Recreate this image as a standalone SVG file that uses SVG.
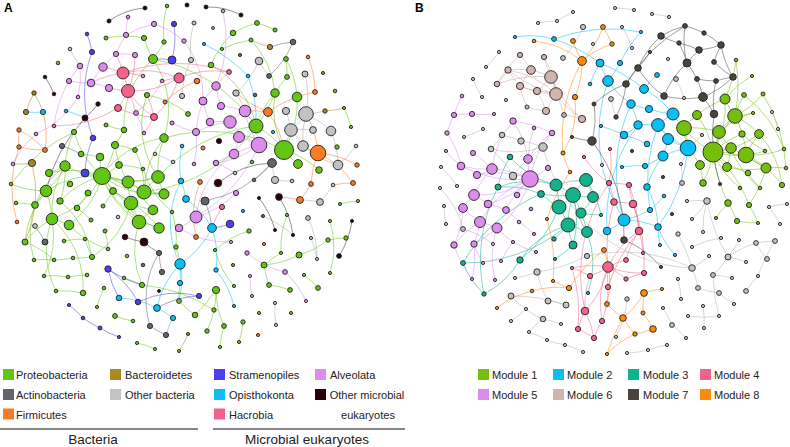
<svg xmlns="http://www.w3.org/2000/svg" width="790" height="447" viewBox="0 0 790 447">
<style>
text{font-family:"Liberation Sans",Arial,sans-serif;fill:#222}
.lg{font-size:11px}.hd{font-size:13.5px}.pl{font-size:12px;font-weight:bold;fill:#000}
circle{stroke:#222;stroke-width:.9}
.E path{fill:none;stroke-width:.85;stroke-opacity:.62}
.g{fill:#63c612}.o{fill:#a88a20}.k{fill:#63656d}.s{fill:#c2c2c2}.f{fill:#fb7a24}.b{fill:#4a40ee}.c{fill:#0abff3}.h{fill:#f4628c}.v{fill:#dd8cee}.m{fill:#2b0007}
.q1{fill:#76be0c}.q2{fill:#07bef5}.q3{fill:#12b38c}.q6{fill:#d2b4ae}.q7{fill:#4a443e}.q8{fill:#ff8a05}
.eg{stroke:#63c612}.ev{stroke:#d98ae8}.eh{stroke:#f4628c}.es{stroke:#aaa}.ek{stroke:#63656d}.ef{stroke:#fb7a24}.ec{stroke:#0abff3}.eb{stroke:#4a40ee}.em{stroke:#3a2a2a}.eo{stroke:#a88a20}
.e1{stroke:#76be0c}.e2{stroke:#07bef5}.e3{stroke:#12b38c}.e4{stroke:#f4628c}.e5{stroke:#dd8cee}.e6{stroke:#c9a9a3}.e7{stroke:#4a443e}.e8{stroke:#ff8a05}.en{stroke:#b5b5b5}
</style>
<rect width="790" height="447" fill="#fff"/>
<text class="pl" x="4" y="12">A</text>
<text class="pl" x="415" y="12">B</text>
<g id="connectors" class="E">
<path class="eg" d="M102 176A90 90 0 0 1 65 166M102 176A90 90 0 0 0 46 191M102 176A90 90 0 0 1 52 219M102 176A90 90 0 0 0 131 203M102 176A90 90 0 0 1 128 182M102 176A90 90 0 0 1 144 192M102 176A90 90 0 0 0 139 222M102 176A90 90 0 0 1 100 157M102 176A90 90 0 0 0 119 165M102 176A90 90 0 0 1 113 191M102 176A90 90 0 0 0 49 173M102 176A90 90 0 0 1 69 225M102 176A90 90 0 0 0 158 177M102 176A90 90 0 0 1 153 210M102 176A90 90 0 0 0 159 228M102 176A90 90 0 0 0 164 194M102 176A90 90 0 0 1 164 138M102 176A90 90 0 0 0 115 145M102 176A90 90 0 0 1 74 132M102 176A90 90 0 0 0 60 201M65 166A90 90 0 0 1 46 191M65 166A90 90 0 0 0 52 219M65 166A90 90 0 0 1 49 173M65 166A90 90 0 0 0 35 205M65 166A90 90 0 0 1 74 132M65 166A90 90 0 0 1 60 201M46 191A90 90 0 0 1 52 219M46 191A90 90 0 0 0 35 205M46 191A90 90 0 0 0 25 242M46 191A90 90 0 0 1 11 184M52 219A90 90 0 0 1 69 225M52 219A90 90 0 0 0 56 291M52 219A90 90 0 0 1 83 293M52 219A90 90 0 0 0 25 242M52 219A90 90 0 0 1 44 276M131 203A90 90 0 0 1 139 222M131 203A90 90 0 0 0 144 192M131 203A90 90 0 0 1 128 182M131 203A90 90 0 0 0 153 210M131 203A90 90 0 0 1 159 228M131 203A90 90 0 0 0 113 191M131 203A90 90 0 0 1 92 257M144 192A90 90 0 0 1 158 177M144 192A90 90 0 0 0 164 194M144 192A90 90 0 0 1 164 138M144 192A90 90 0 0 0 135 150M128 182A90 90 0 0 0 158 177M128 182A90 90 0 0 1 115 145M139 222A90 90 0 0 1 159 228M139 222A90 90 0 0 0 142 285M139 222A90 90 0 0 1 153 210M158 177A90 90 0 0 1 164 138M158 177A90 90 0 0 0 164 194M158 177A90 90 0 0 1 147 95M164 138A90 90 0 0 0 153 59M153 59A90 90 0 0 1 144 38M153 59A90 90 0 0 0 164 42M153 59A90 90 0 0 0 124 130M158 177A160 160 0 0 1 256 126M164 138A160 160 0 0 1 284 150M144 192A160 160 0 0 0 275 93M153 59A160 160 0 0 1 256 126M256 126A90 90 0 0 1 284 150M284 150A90 90 0 0 0 298 164M284 150A90 90 0 0 1 275 93M284 150A90 90 0 0 0 297 97M256 126A90 90 0 0 1 275 93M297 97A90 90 0 0 0 286 59M275 93A90 90 0 0 1 287 77M284 150A90 90 0 0 1 319 170M256 126A90 90 0 0 0 211 65M211 65A90 90 0 0 1 233 33M233 33A90 90 0 0 1 257 23M257 23A90 90 0 0 1 275 30M251 40A90 90 0 0 0 222 49M287 77A90 90 0 0 0 286 59M275 93A90 90 0 0 0 251 40M216 290A90 90 0 0 1 214 310M216 290A90 90 0 0 0 224 326M214 310A90 90 0 0 1 207 331M243 322A90 90 0 0 1 239 342M224 326A90 90 0 0 0 220 347M269 285A90 90 0 0 1 290 290M299 255A90 90 0 0 1 264 265M264 265A90 90 0 0 1 281 253M287 215A90 90 0 0 0 281 253M328 240A90 90 0 0 1 346 238M249 231A90 90 0 0 0 215 250M195 315A90 90 0 0 1 179 301M115 316A90 90 0 0 0 133 321M137 343A90 90 0 0 1 155 349M83 293A90 90 0 0 0 56 291M97 307A90 90 0 0 1 104 288M68 277A90 90 0 0 1 87 275M358 201A90 90 0 0 0 340 204M330 221A90 90 0 0 1 330 273M318 288A90 90 0 0 0 304 275M234 286A90 90 0 0 1 215 250M264 265A90 90 0 0 0 269 285M299 255A90 90 0 0 0 328 240M216 290A160 160 0 0 1 195 315M214 310A160 160 0 0 0 142 285M176 247A90 90 0 0 1 179 301M142 285A90 90 0 0 0 124 278M34 260A90 90 0 0 1 54 260M44 276A90 90 0 0 1 68 277M54 260A90 90 0 0 0 73 258M73 258A90 90 0 0 0 92 257M105 231A90 90 0 0 1 108 249M64 241A90 90 0 0 1 85 239M77 208A90 90 0 0 1 91 220M103 206A90 90 0 0 0 113 191M88 193A90 90 0 0 1 77 208M119 165A90 90 0 0 1 143 169M143 169A90 90 0 0 0 172 212M172 212A90 90 0 0 1 176 247M85 239A90 90 0 0 0 92 257M124 130A90 90 0 0 1 115 145M106 125A90 90 0 0 0 124 130M135 150A90 90 0 0 0 115 145M81 154A90 90 0 0 1 100 157M106 38A90 90 0 0 1 144 38M167 6A90 90 0 0 0 164 42M188 114A90 90 0 0 0 147 95M16 203A90 90 0 0 1 35 205M351 127A90 90 0 0 0 344 108M74 132A160 160 0 0 0 11 184M35 205A90 90 0 0 0 34 260M25 242A90 90 0 0 1 54 260M60 201A90 90 0 0 1 92 257M69 225A90 90 0 0 0 108 249M113 191A90 90 0 0 1 139 222M128 182A90 90 0 0 0 164 194"/>
<path class="ev" d="M259 145A90 90 0 0 1 230 122M259 145A90 90 0 0 0 239 137M259 145A90 90 0 0 1 245 111M259 145A90 90 0 0 0 234 154M230 122A90 90 0 0 1 245 111M230 122A90 90 0 0 0 210 122M210 122A90 90 0 0 1 203 101M203 101A90 90 0 0 1 216 86M216 86A90 90 0 0 0 221 106M221 106A90 90 0 0 1 245 111M239 137A90 90 0 0 1 234 154M245 111A90 90 0 0 0 236 93M259 145A90 90 0 0 1 216 163M230 122A90 90 0 0 0 196 132M216 86A90 90 0 0 1 229 72M234 154A90 90 0 0 0 216 163M103 67A90 90 0 0 1 116 54M103 67A90 90 0 0 0 91 83M91 83A90 90 0 0 1 109 88M80 66A90 90 0 0 0 69 81M69 81A90 90 0 0 0 91 83M80 66A90 90 0 0 1 78 97M116 54A90 90 0 0 1 126 35M126 35A90 90 0 0 1 154 24M154 24A90 90 0 0 1 184 41M135 55A90 90 0 0 0 116 54M136 113A90 90 0 0 1 144 133M196 132A90 90 0 0 1 194 164M196 217A90 90 0 0 1 179 228M196 217A90 90 0 0 0 236 193M179 228A90 90 0 0 0 231 242M285 272A90 90 0 0 1 247 253M250 276A90 90 0 0 0 252 296M306 301A90 90 0 0 0 285 272M78 97A90 90 0 0 1 36 134M36 134A90 90 0 0 0 13 164M259 145A160 160 0 0 1 196 217M234 154A90 90 0 0 0 196 217M203 101A90 90 0 0 0 196 132M196 132A90 90 0 0 1 172 123M216 86A120 120 0 0 0 223 11M128 17A90 90 0 0 0 126 35M80 66A90 90 0 0 1 70 49M69 81A120 120 0 0 0 54 126M216 163A90 90 0 0 1 235 173M184 41A90 90 0 0 1 203 101M162 81A90 90 0 0 1 136 113"/>
<path class="eh" d="M123 73A90 90 0 0 1 128 91M123 73A90 90 0 0 1 179 78M128 91A90 90 0 0 0 179 78M128 91A90 90 0 0 1 118 108M128 91A90 90 0 0 0 154 117M123 73A90 90 0 0 0 103 67M128 91A90 90 0 0 1 109 88M118 108A90 90 0 0 0 154 117M179 78A90 90 0 0 1 154 117M123 73A90 90 0 0 1 143 76M154 117A90 90 0 0 1 144 133M128 91A90 90 0 0 0 135 55M179 78A90 90 0 0 0 162 81M229 72A90 90 0 0 0 179 78M123 73A90 90 0 0 0 116 54M128 91A90 90 0 0 1 136 113M118 108A120 120 0 0 1 54 126M154 117A90 90 0 0 0 147 95M123 73A160 160 0 0 1 229 72M91 83A90 90 0 0 1 123 73M222 207A90 90 0 0 0 212 228"/>
<path class="es" d="M306 114A90 90 0 0 1 291 130M306 114A90 90 0 0 0 303 146M291 130A90 90 0 0 1 303 146M291 130A90 90 0 0 0 286 111M306 114A90 90 0 0 1 331 131M331 131A90 90 0 0 1 338 165M303 146A90 90 0 0 0 338 165M259 61A90 90 0 0 1 236 93M305 74A90 90 0 0 1 306 114M313 130A90 90 0 0 0 291 130M275 180A90 90 0 0 1 272 163M320 202A90 90 0 0 0 300 200M308 218A90 90 0 0 1 317 259M259 61A90 90 0 0 0 269 76M291 130A90 90 0 0 1 272 163M338 165A90 90 0 0 0 356 146M306 114A90 90 0 0 0 325 111M194 23A90 90 0 0 0 191 60M182 96A90 90 0 0 1 191 60M275 180A90 90 0 0 0 292 181M333 185A90 90 0 0 1 320 202M275 303A90 90 0 0 0 276 325M263 216A120 120 0 0 1 293 235M311 238A90 90 0 0 1 317 259M155 154A90 90 0 0 1 173 162"/>
<path class="em" d="M145 8A70 70 0 0 0 109 21M206 7A70 70 0 0 1 241 15M45 77A90 90 0 0 1 54 94M144 242A90 90 0 0 1 125 237M144 242A90 90 0 0 0 159 253M218 183A90 90 0 0 1 272 163M279 197A90 90 0 0 1 293 235M339 256A90 90 0 0 0 352 221M85 118A160 160 0 0 0 46 191M98 104A90 90 0 0 1 85 118M259 198A90 90 0 0 1 275 230"/>
<path class="ek" d="M162 272A90 90 0 0 1 159 253M150 326A90 90 0 0 0 166 335M293 42A90 90 0 0 0 270 47M62 146A90 90 0 0 1 81 154M205 201A90 90 0 0 1 212 228M293 42A90 90 0 0 1 269 76M150 326A90 90 0 0 1 159 253M45 242A90 90 0 0 0 35 226M205 201A120 120 0 0 0 272 163M254 180A90 90 0 0 0 272 163"/>
<path class="ef" d="M318 153A90 90 0 0 1 303 146M318 153A90 90 0 0 0 311 184M318 153A90 90 0 0 1 353 183M268 112A120 120 0 0 1 315 92M318 153A90 90 0 0 1 357 165M315 92A90 90 0 0 0 308 57M19 130A90 90 0 0 0 19 147M19 147A90 90 0 0 0 45 150M19 130A90 90 0 0 1 45 150M45 150A90 90 0 0 0 43 112M200 182A90 90 0 0 0 196 237M300 200A90 90 0 0 0 279 197M268 112A90 90 0 0 1 284 150M318 153A90 90 0 0 0 306 114M197 81A90 90 0 0 0 165 102M17 222A120 120 0 0 1 19 147M311 184A90 90 0 0 1 300 200M353 183A90 90 0 0 0 333 185M268 112A90 90 0 0 0 245 111M268 112A120 120 0 0 1 236 93"/>
<path class="ec" d="M180 264A90 90 0 0 1 180 283M180 264A90 90 0 0 0 157 308M157 308A90 90 0 0 1 173 318M180 283A90 90 0 0 0 179 301M212 228A90 90 0 0 0 186 199M186 199A90 90 0 0 0 181 181M181 181A90 90 0 0 1 182 146M180 264A90 90 0 0 1 181 181M119 298A90 90 0 0 1 157 308M43 112A90 90 0 0 1 26 112M212 228A90 90 0 0 1 216 270M180 264A90 90 0 0 0 212 228M204 44A160 160 0 0 1 248 76M234 306A90 90 0 0 0 216 270M66 111A90 90 0 0 1 85 118M248 76A120 120 0 0 1 256 126M173 318A90 90 0 0 0 166 335"/>
<path class="eb" d="M108 269A90 90 0 0 0 119 298M108 269A90 90 0 0 1 138 302M138 302A90 90 0 0 1 199 296M83 318A90 90 0 0 0 100 328M100 328A90 90 0 0 0 119 337M85 173A90 90 0 0 1 93 138M93 138A120 120 0 0 1 92 52M174 24A90 90 0 0 1 172 60M172 60A90 90 0 0 0 153 59M199 296A90 90 0 0 0 157 308M69 305A90 90 0 0 1 83 318M230 224A90 90 0 0 1 212 228M87 34A90 90 0 0 1 92 52M108 269A120 120 0 0 0 142 285"/>
<path class="eo" d="M34 93A90 90 0 0 0 26 112M34 93A90 90 0 0 1 43 112M32 163A90 90 0 0 1 13 164M270 47A90 90 0 0 1 251 40M188 334A90 90 0 0 1 179 351M325 111A90 90 0 0 0 344 108M32 163A120 120 0 0 1 25 242"/>
<path class="e1" d="M713 152A90 90 0 0 1 684 128M713 152A90 90 0 0 0 719 132M713 152A90 90 0 0 1 731 148M713 152A90 90 0 0 0 746 155M713 152A90 90 0 0 1 700 165M713 152A90 90 0 0 0 727 167M713 152A90 90 0 0 0 697 115M713 152A90 90 0 0 1 735 116M713 152A90 90 0 0 0 725 99M713 152A90 90 0 0 1 742 134M713 152A90 90 0 0 0 759 134M713 152A90 90 0 0 1 766 168M713 152A90 90 0 0 0 748 173M713 152A90 90 0 0 1 703 183M713 152A90 90 0 0 0 740 188M735 116A90 90 0 0 1 725 99M735 116A90 90 0 0 0 719 132M735 116A90 90 0 0 1 744 95M735 116A90 90 0 0 0 763 94M735 116A90 90 0 0 1 759 134M735 116A90 90 0 0 1 746 155M735 116A90 90 0 0 0 753 113M746 155A90 90 0 0 1 759 134M746 155A90 90 0 0 0 766 168M746 155A90 90 0 0 1 731 148M746 155A90 90 0 0 0 765 151M746 155A90 90 0 0 1 782 185M684 128A90 90 0 0 1 697 115M684 128A90 90 0 0 0 700 165M684 128A90 90 0 0 1 719 132M719 132A90 90 0 0 0 731 148M731 148A90 90 0 0 1 727 167M727 167A90 90 0 0 0 766 168M766 168A90 90 0 0 1 786 168M748 173A90 90 0 0 0 760 188M700 165A90 90 0 0 1 703 183M725 99A120 120 0 0 0 736 60M725 99A90 90 0 0 1 752 76M697 115A90 90 0 0 1 725 99M735 116A160 160 0 0 0 736 60M746 155A90 90 0 0 0 784 149M713 152A160 160 0 0 0 728 203M727 167A120 120 0 0 1 749 205M728 203A90 90 0 0 1 737 221M737 221A90 90 0 0 0 758 223M749 205A90 90 0 0 1 758 223M728 203A90 90 0 0 0 716 218M766 168A120 120 0 0 1 749 205M719 132A90 90 0 0 1 753 113M742 134A90 90 0 0 0 765 151M744 95A120 120 0 0 1 784 149M763 94A160 160 0 0 1 786 168M759 134A90 90 0 0 1 782 185M731 148A90 90 0 0 0 760 188"/>
<path class="e2" d="M688 148A90 90 0 0 1 658 125M688 148A90 90 0 0 0 673 114M688 148A90 90 0 0 1 668 139M688 148A90 90 0 0 0 663 156M658 125A90 90 0 0 1 673 114M658 125A90 90 0 0 0 638 125M658 125A90 90 0 0 1 668 139M673 114A90 90 0 0 0 644 89M673 114A90 90 0 0 1 649 109M638 125A90 90 0 0 0 631 104M631 104A90 90 0 0 1 608 81M608 81A90 90 0 0 1 600 63M608 81A90 90 0 0 0 620 63M644 89A90 90 0 0 1 657 75M649 109A90 90 0 0 1 631 104M624 135A90 90 0 0 0 638 125M624 135A90 90 0 0 1 647 144M663 156A90 90 0 0 1 645 166M663 156A90 90 0 0 0 647 187M624 220A90 90 0 0 1 607 231M624 220A90 90 0 0 0 650 210M624 220A90 90 0 0 1 658 227M650 210A90 90 0 0 0 664 196M554 39A90 90 0 0 0 515 37M554 39A160 160 0 0 1 600 63M641 32A120 120 0 0 0 620 63M608 81A160 160 0 0 0 624 220M600 63A90 90 0 0 0 590 84M645 166A90 90 0 0 0 622 167M647 187A90 90 0 0 1 658 227M658 227A90 90 0 0 0 660 245M675 255A90 90 0 0 1 658 227M668 139A90 90 0 0 1 663 156M600 63A160 160 0 0 1 644 89M638 125A160 160 0 0 0 607 231M631 104A160 160 0 0 0 624 220M641 32A160 160 0 0 0 554 39M658 125A160 160 0 0 0 650 210M688 148A160 160 0 0 1 658 227M624 135A160 160 0 0 0 601 126"/>
<path class="e3" d="M573 195A90 90 0 0 1 559 207M573 195A90 90 0 0 0 568 225M573 195A90 90 0 0 1 581 213M573 195A90 90 0 0 0 593 197M573 195A90 90 0 0 1 586 180M573 195A90 90 0 0 0 556 185M573 195A90 90 0 0 1 541 194M573 195A90 90 0 0 0 587 232M573 195A90 90 0 0 1 573 245M559 207A90 90 0 0 1 568 225M559 207A90 90 0 0 0 556 185M559 207A90 90 0 0 1 541 194M568 225A90 90 0 0 1 587 232M568 225A90 90 0 0 0 573 245M568 225A90 90 0 0 1 554 239M581 213A90 90 0 0 1 587 232M586 180A90 90 0 0 0 556 185M586 180A90 90 0 0 1 593 197M556 185A90 90 0 0 1 510 157M510 157A90 90 0 0 0 498 187M556 185A90 90 0 0 0 498 187M559 207A120 120 0 0 1 520 260M568 225A160 160 0 0 1 463 263M463 263A90 90 0 0 0 484 294M520 260A90 90 0 0 1 484 294M555 259A90 90 0 0 0 573 245M601 215A90 90 0 0 1 581 213M588 293A90 90 0 0 0 587 232M541 194A90 90 0 0 0 498 187M586 180A90 90 0 0 1 601 215M568 225A90 90 0 0 0 520 260M593 197A90 90 0 0 1 581 213M463 263A160 160 0 0 1 541 194M498 187A160 160 0 0 0 484 294"/>
<path class="e4" d="M608 267A90 90 0 0 1 626 260M608 267A90 90 0 0 0 644 273M608 267A90 90 0 0 1 626 279M608 267A90 90 0 0 0 608 287M608 267A90 90 0 0 1 639 231M608 267A90 90 0 0 0 602 321M608 267A90 90 0 0 1 585 311M608 267A90 90 0 0 0 572 268M608 267A90 90 0 0 1 590 276M633 204A90 90 0 0 0 614 202M633 204A90 90 0 0 1 639 231M614 202A90 90 0 0 0 609 183M633 204A90 90 0 0 1 629 185M639 231A90 90 0 0 1 643 253M626 260A90 90 0 0 1 639 231M644 273A90 90 0 0 0 626 279M608 287A90 90 0 0 1 602 321M585 311A90 90 0 0 0 578 329M578 329A90 90 0 0 1 594 338M585 311A90 90 0 0 1 594 338M590 276A90 90 0 0 0 585 311M609 183A90 90 0 0 1 629 185M584 157A90 90 0 0 0 609 183M610 149A90 90 0 0 1 609 183M602 321A90 90 0 0 0 594 338M572 268A90 90 0 0 1 590 276M633 204A160 160 0 0 1 644 273M614 202A160 160 0 0 0 608 267M609 183A160 160 0 0 0 585 311M629 185A160 160 0 0 1 639 231M639 231A160 160 0 0 0 608 287M572 268A160 160 0 0 1 578 329"/>
<path class="e5" d="M530 179A90 90 0 0 1 528 159M530 179A90 90 0 0 0 492 169M530 179A120 120 0 0 1 461 166M530 179A90 90 0 0 0 477 175M530 179A90 90 0 0 1 552 133M530 179A90 90 0 0 0 548 168M530 179A90 90 0 0 1 474 195M530 179A90 90 0 0 0 480 222M530 179A90 90 0 0 1 497 228M530 179A90 90 0 0 0 517 195M530 179A90 90 0 0 1 488 204M492 169A90 90 0 0 1 477 175M492 169A90 90 0 0 0 473 153M492 169A90 90 0 0 1 461 166M492 169A90 90 0 0 1 513 121M528 159A90 90 0 0 0 513 121M528 159A90 90 0 0 1 552 133M461 166A90 90 0 0 0 447 133M461 166A90 90 0 0 1 446 151M447 133A90 90 0 0 1 454 115M454 115A90 90 0 0 1 472 114M454 115A90 90 0 0 1 462 96M472 114A90 90 0 0 0 494 114M474 195A90 90 0 0 0 463 208M474 195A90 90 0 0 1 488 204M463 208A90 90 0 0 0 480 222M488 204A90 90 0 0 1 506 210M480 222A90 90 0 0 1 497 228M480 222A90 90 0 0 0 454 245M480 222A90 90 0 0 1 474 244M497 228A90 90 0 0 0 513 242M506 210A90 90 0 0 1 519 222M497 228A90 90 0 0 1 474 244M474 244A90 90 0 0 0 483 263M501 261A90 90 0 0 1 513 242M472 279A90 90 0 0 0 474 244M495 280A90 90 0 0 1 497 228M463 208A90 90 0 0 1 454 245M528 159A90 90 0 0 1 534 128M492 169A90 90 0 0 0 474 195M530 179A90 90 0 0 0 506 210M454 245A120 120 0 0 0 472 279M513 121A120 120 0 0 1 552 133M534 234A90 90 0 0 0 519 222M536 252A90 90 0 0 1 513 242"/>
<path class="e6" d="M551 77A90 90 0 0 1 556 94M551 77A90 90 0 0 0 531 70M551 77A90 90 0 0 1 544 57M556 94A90 90 0 0 0 537 91M556 94A90 90 0 0 1 520 86M531 70A90 90 0 0 0 508 70M508 70A90 90 0 0 1 497 84M520 86A90 90 0 0 0 537 91M537 91A90 90 0 0 1 546 111M556 94A90 90 0 0 0 546 111M556 94A90 90 0 0 1 564 115M556 94A90 90 0 0 0 582 119M520 55A90 90 0 0 1 531 70M531 70A90 90 0 0 0 520 86M551 77A90 90 0 0 1 537 91M508 70A90 90 0 0 0 520 86M527 107A90 90 0 0 1 520 86M582 119A90 90 0 0 0 564 115M546 111A90 90 0 0 1 527 107M508 70A90 90 0 0 1 556 94M551 77A120 120 0 0 0 497 84M556 94A120 120 0 0 1 508 70M520 55A120 120 0 0 0 497 84M544 57A90 90 0 0 1 556 94M582 119A120 120 0 0 1 551 77"/>
<path class="e7" d="M661 36A90 90 0 0 1 685 26M685 26A90 90 0 0 1 704 33M661 36A90 90 0 0 0 679 43M679 43A90 90 0 0 1 699 50M699 50A90 90 0 0 0 721 45M704 33A90 90 0 0 1 721 45M638 68A90 90 0 0 1 661 36M638 68A90 90 0 0 0 626 84M687 63A90 90 0 0 1 699 50M687 63A90 90 0 0 0 679 43M687 63A90 90 0 0 1 697 79M697 79A90 90 0 0 0 716 81M716 81A90 90 0 0 1 733 77M714 62A90 90 0 0 0 733 77M714 62A90 90 0 0 1 721 45M664 96A90 90 0 0 1 687 63M664 96A90 90 0 0 0 703 97M703 97A90 90 0 0 1 714 114M703 97A90 90 0 0 0 697 79M714 114A90 90 0 0 1 716 81M616 117A90 90 0 0 0 626 84M592 141A90 90 0 0 1 572 137M592 141A90 90 0 0 0 594 104M594 104A90 90 0 0 1 626 84M638 68A90 90 0 0 0 650 52M664 96A90 90 0 0 1 638 68M714 114A160 160 0 0 0 720 184M592 141A160 160 0 0 1 624 240M685 26A90 90 0 0 0 687 63M626 84A160 160 0 0 1 685 26M733 77A90 90 0 0 1 721 45M703 97A90 90 0 0 0 733 77M624 240A90 90 0 0 1 661 267"/>
<path class="e8" d="M582 61A90 90 0 0 1 573 41M582 61A90 90 0 0 0 534 41M582 61A90 90 0 0 1 575 97M582 61A90 90 0 0 0 603 27M582 61A90 90 0 0 1 612 44M603 27A90 90 0 0 1 612 44M575 97A90 90 0 0 1 563 153M563 153A90 90 0 0 0 570 172M570 172A160 160 0 0 0 547 219M547 219A160 160 0 0 1 553 281M569 288A90 90 0 0 1 553 281M569 288A90 90 0 0 0 532 291M532 291A90 90 0 0 0 497 308M582 61A160 160 0 0 0 563 153M644 293A90 90 0 0 0 643 313M644 293A90 90 0 0 1 662 289M643 313A90 90 0 0 1 653 329M623 318A90 90 0 0 0 635 334M623 318A90 90 0 0 1 607 304M653 329A90 90 0 0 1 635 334M607 304A90 90 0 0 0 604 250M623 318A160 160 0 0 0 607 354M644 293A90 90 0 0 1 623 318M635 334A90 90 0 0 0 607 354M604 250A160 160 0 0 0 569 288"/>
<path class="en" d="M692 268A90 90 0 0 1 698 288M698 288A90 90 0 0 0 719 293M728 257A90 90 0 0 1 713 275M728 257A90 90 0 0 0 739 240M728 257A90 90 0 0 1 756 243M756 243A90 90 0 0 1 775 241M756 243A90 90 0 0 0 767 259M746 291A90 90 0 0 1 758 276M746 262A90 90 0 0 0 728 257M713 275A90 90 0 0 1 732 278M719 293A90 90 0 0 0 734 304M692 268A90 90 0 0 0 709 256M672 325A90 90 0 0 1 686 338M672 325A90 90 0 0 0 663 308M667 345A90 90 0 0 0 648 350M703 306A90 90 0 0 1 704 328M688 316A90 90 0 0 0 719 316M678 279A90 90 0 0 1 681 299M707 201A90 90 0 0 0 687 201M707 201A90 90 0 0 1 692 219M707 201A90 90 0 0 0 703 232M692 247A90 90 0 0 1 721 238M780 224A90 90 0 0 0 769 207M787 204A90 90 0 0 0 769 207M682 183A90 90 0 0 0 681 164M772 112A90 90 0 0 1 778 129M543 147A90 90 0 0 0 521 141M543 147A90 90 0 0 1 491 149M491 149A90 90 0 0 0 502 135M502 135A90 90 0 0 1 521 141M513 176A90 90 0 0 0 491 149M548 301A90 90 0 0 1 566 305M511 296A90 90 0 0 0 543 319M543 319A90 90 0 0 1 561 324M543 319A90 90 0 0 0 529 332M529 332A90 90 0 0 1 547 340M547 340A90 90 0 0 0 565 345M565 345A90 90 0 0 1 583 352M511 321A90 90 0 0 0 526 309M537 272A90 90 0 0 1 515 278M537 272A90 90 0 0 0 548 301M511 296A160 160 0 0 1 566 305M692 268A160 160 0 0 0 678 234M728 257A160 160 0 0 1 707 201M573 12A90 90 0 0 0 557 21M557 21A90 90 0 0 0 538 23M583 27A90 90 0 0 1 563 58M499 52A90 90 0 0 1 486 67M473 79A90 90 0 0 0 482 97M441 167A90 90 0 0 1 457 186M440 188A90 90 0 0 1 463 229M444 206A90 90 0 0 0 446 224M615 8A90 90 0 0 1 634 10M652 14A90 90 0 0 1 669 17M622 27A90 90 0 0 1 632 48M676 79A90 90 0 0 1 684 98M611 99A90 90 0 0 0 616 117M543 147A160 160 0 0 0 692 268M587 256A160 160 0 0 1 692 268M627 299A90 90 0 0 1 616 337M627 353A90 90 0 0 0 648 350M537 272A160 160 0 0 0 587 256M463 229A90 90 0 0 1 493 244M483 129A120 120 0 0 1 464 137M513 176A120 120 0 0 1 543 147M702 135A90 90 0 0 0 681 164M758 276A160 160 0 0 1 775 241M713 275A160 160 0 0 0 719 316"/>
</g>
<g id="nodesA">
<g id="a1"><circle class="m" cx="145" cy="8" r="2"/></g><g id="a2"><circle class="m" cx="109" cy="21" r="2"/></g><g id="a3"><circle class="g" cx="167" cy="6" r="1.8"/></g><g id="a4"><circle class="m" cx="187" cy="5" r="2"/></g><g id="a5"><circle class="s" cx="194" cy="23" r="2"/></g><g id="a6"><circle class="v" cx="128" cy="17" r="1.8"/></g><g id="a7"><circle class="v" cx="154" cy="24" r="2.6"/></g><g id="a8"><circle class="b" cx="174" cy="24" r="2.6"/></g><g id="a9"><circle class="b" cx="87" cy="34" r="1.8"/></g><g id="a10"><circle class="v" cx="126" cy="35" r="2.6"/></g>
<g id="a11"><circle class="g" cx="106" cy="38" r="2"/></g><g id="a12"><circle class="g" cx="144" cy="38" r="2.6"/></g><g id="a13"><circle class="g" cx="164" cy="42" r="2.2"/></g><g id="a14"><circle class="v" cx="184" cy="41" r="2.2"/></g><g id="a15"><circle class="s" cx="70" cy="49" r="1.8"/></g><g id="a16"><circle class="b" cx="92" cy="52" r="2.6"/></g><g id="a17"><circle class="v" cx="116" cy="54" r="2.6"/></g><g id="a18"><circle class="v" cx="135" cy="55" r="2.6"/></g><g id="a19"><circle class="g" cx="153" cy="59" r="4.5"/></g><g id="a20"><circle class="b" cx="172" cy="60" r="4"/></g>
<g id="a21"><circle class="s" cx="191" cy="60" r="2.6"/></g><g id="a22"><circle class="g" cx="58" cy="63" r="1.8"/></g><g id="a23"><circle class="v" cx="80" cy="66" r="2.8"/></g><g id="a24"><circle class="v" cx="103" cy="67" r="4.2"/></g><g id="a25"><circle class="h" cx="123" cy="73" r="6"/></g><g id="a26"><circle class="h" cx="179" cy="78" r="5"/></g><g id="a27"><circle class="f" cx="197" cy="81" r="2.8"/></g><g id="a28"><circle class="m" cx="45" cy="77" r="1.8"/></g><g id="a29"><circle class="v" cx="69" cy="81" r="2.6"/></g><g id="a30"><circle class="v" cx="91" cy="83" r="3.8"/></g>
<g id="a31"><circle class="v" cx="109" cy="88" r="3.6"/></g><g id="a32"><circle class="h" cx="128" cy="91" r="6.5"/></g><g id="a33"><circle class="v" cx="162" cy="81" r="1.8"/></g><g id="a34"><circle class="v" cx="143" cy="76" r="1.8"/></g><g id="a35"><circle class="m" cx="54" cy="94" r="1.8"/></g><g id="a36"><circle class="v" cx="78" cy="97" r="1.8"/></g><g id="a37"><circle class="m" cx="98" cy="104" r="2.2"/></g><g id="a38"><circle class="g" cx="147" cy="95" r="2.6"/></g><g id="a39"><circle class="s" cx="182" cy="96" r="2.6"/></g><g id="a40"><circle class="f" cx="165" cy="102" r="2"/></g>
<g id="a41"><circle class="o" cx="34" cy="93" r="2.2"/></g><g id="a42"><circle class="o" cx="26" cy="112" r="2.6"/></g><g id="a43"><circle class="c" cx="43" cy="112" r="2.6"/></g><g id="a44"><circle class="c" cx="66" cy="111" r="1.8"/></g><g id="a45"><circle class="h" cx="118" cy="108" r="3.5"/></g><g id="a46"><circle class="v" cx="136" cy="113" r="2.4"/></g><g id="a47"><circle class="h" cx="154" cy="117" r="3.5"/></g><g id="a48"><circle class="g" cx="188" cy="114" r="2.4"/></g><g id="a49"><circle class="m" cx="85" cy="118" r="3"/></g><g id="a50"><circle class="h" cx="54" cy="126" r="1.8"/></g>
<g id="a51"><circle class="v" cx="172" cy="123" r="2"/></g><g id="a52"><circle class="g" cx="106" cy="125" r="2"/></g><g id="a53"><circle class="g" cx="124" cy="130" r="2.8"/></g><g id="a54"><circle class="f" cx="19" cy="130" r="2.2"/></g><g id="a55"><circle class="v" cx="36" cy="134" r="1.8"/></g><g id="a56"><circle class="g" cx="74" cy="132" r="2.6"/></g><g id="a57"><circle class="v" cx="144" cy="133" r="1.8"/></g><g id="a58"><circle class="g" cx="164" cy="138" r="4.2"/></g><g id="a59"><circle class="v" cx="196" cy="132" r="3.6"/></g><g id="a60"><circle class="b" cx="93" cy="138" r="2.8"/></g>
<g id="a61"><circle class="k" cx="62" cy="146" r="2.6"/></g><g id="a62"><circle class="g" cx="115" cy="145" r="3.6"/></g><g id="a63"><circle class="f" cx="19" cy="147" r="2.2"/></g><g id="a64"><circle class="f" cx="45" cy="150" r="2.4"/></g><g id="a65"><circle class="g" cx="135" cy="150" r="2.4"/></g><g id="a66"><circle class="g" cx="81" cy="154" r="2.8"/></g><g id="a67"><circle class="g" cx="100" cy="157" r="3.8"/></g><g id="a68"><circle class="s" cx="155" cy="154" r="1.8"/></g><g id="a69"><circle class="c" cx="182" cy="146" r="1.8"/></g><g id="a70"><circle class="v" cx="13" cy="164" r="1.8"/></g>
<g id="a71"><circle class="o" cx="32" cy="163" r="3.6"/></g><g id="a72"><circle class="g" cx="65" cy="166" r="5.2"/></g><g id="a73"><circle class="s" cx="173" cy="162" r="1.8"/></g><g id="a74"><circle class="v" cx="194" cy="164" r="1.8"/></g><g id="a75"><circle class="g" cx="49" cy="173" r="3.6"/></g><g id="a76"><circle class="b" cx="85" cy="173" r="4"/></g><g id="a77"><circle class="g" cx="102" cy="176" r="8.5"/></g><g id="a78"><circle class="g" cx="128" cy="182" r="6"/></g><g id="a79"><circle class="g" cx="143" cy="169" r="1.8"/></g><g id="a80"><circle class="g" cx="158" cy="177" r="6.3"/></g>
<g id="a81"><circle class="g" cx="70" cy="184" r="2.8"/></g><g id="a82"><circle class="g" cx="46" cy="191" r="5.8"/></g><g id="a83"><circle class="g" cx="144" cy="192" r="7"/></g><g id="a84"><circle class="g" cx="11" cy="184" r="1.8"/></g><g id="a85"><circle class="c" cx="181" cy="181" r="2.8"/></g><g id="a86"><circle class="g" cx="119" cy="165" r="3.4"/></g><g id="a87"><circle class="g" cx="88" cy="193" r="3"/></g><g id="a88"><circle class="g" cx="113" cy="191" r="3.4"/></g><g id="a89"><circle class="g" cx="164" cy="194" r="5"/></g><g id="a90"><circle class="g" cx="60" cy="201" r="3.2"/></g>
<g id="a91"><circle class="g" cx="35" cy="205" r="3.4"/></g><g id="a92"><circle class="g" cx="77" cy="208" r="2.8"/></g><g id="a93"><circle class="g" cx="103" cy="206" r="2"/></g><g id="a94"><circle class="g" cx="131" cy="203" r="6.8"/></g><g id="a95"><circle class="g" cx="153" cy="210" r="4.8"/></g><g id="a96"><circle class="g" cx="16" cy="203" r="1.8"/></g><g id="a97"><circle class="g" cx="52" cy="219" r="5.8"/></g><g id="a98"><circle class="g" cx="69" cy="225" r="4.8"/></g><g id="a99"><circle class="g" cx="91" cy="220" r="2"/></g><g id="a100"><circle class="s" cx="118" cy="217" r="1.8"/></g>
<g id="a101"><circle class="g" cx="139" cy="222" r="6.8"/></g><g id="a102"><circle class="g" cx="159" cy="228" r="5.2"/></g><g id="a103"><circle class="g" cx="172" cy="212" r="1.8"/></g><g id="a104"><circle class="f" cx="17" cy="222" r="1.8"/></g><g id="a105"><circle class="s" cx="35" cy="226" r="2.4"/></g><g id="a106"><circle class="g" cx="105" cy="231" r="2"/></g><g id="a107"><circle class="g" cx="25" cy="242" r="3"/></g><g id="a108"><circle class="k" cx="45" cy="242" r="3"/></g><g id="a109"><circle class="g" cx="64" cy="241" r="1.8"/></g><g id="a110"><circle class="g" cx="85" cy="239" r="1.8"/></g>
<g id="a111"><circle class="m" cx="125" cy="237" r="2.8"/></g><g id="a112"><circle class="m" cx="144" cy="242" r="4"/></g><g id="a113"><circle class="g" cx="176" cy="247" r="2.2"/></g><g id="a114"><circle class="g" cx="108" cy="249" r="1.8"/></g><g id="a115"><circle class="k" cx="159" cy="253" r="2.6"/></g><g id="a116"><circle class="g" cx="34" cy="260" r="1.8"/></g><g id="a117"><circle class="g" cx="54" cy="260" r="1.8"/></g><g id="a118"><circle class="g" cx="73" cy="258" r="1.8"/></g><g id="a119"><circle class="g" cx="92" cy="257" r="2.6"/></g><g id="a120"><circle class="g" cx="127" cy="256" r="1.8"/></g>
<g id="a121"><circle class="k" cx="143" cy="265" r="1.8"/></g><g id="a122"><circle class="b" cx="108" cy="269" r="3.2"/></g><g id="a123"><circle class="c" cx="180" cy="264" r="5.2"/></g><g id="a124"><circle class="k" cx="162" cy="272" r="2.6"/></g><g id="a125"><circle class="g" cx="44" cy="276" r="1.8"/></g><g id="a126"><circle class="g" cx="68" cy="277" r="1.8"/></g><g id="a127"><circle class="g" cx="87" cy="275" r="1.8"/></g><g id="a128"><circle class="g" cx="124" cy="278" r="1.8"/></g><g id="a129"><circle class="g" cx="142" cy="285" r="2.6"/></g><g id="a130"><circle class="c" cx="180" cy="283" r="2.6"/></g>
<g id="a131"><circle class="b" cx="199" cy="296" r="2.6"/></g><g id="a132"><circle class="m" cx="159" cy="291" r="1.5"/></g><g id="a133"><circle class="g" cx="56" cy="291" r="1.8"/></g><g id="a134"><circle class="g" cx="83" cy="293" r="2.8"/></g><g id="a135"><circle class="g" cx="104" cy="288" r="1.8"/></g><g id="a136"><circle class="c" cx="119" cy="298" r="2.8"/></g><g id="a137"><circle class="b" cx="138" cy="302" r="2.8"/></g><g id="a138"><circle class="g" cx="179" cy="301" r="2.4"/></g><g id="a139"><circle class="b" cx="69" cy="305" r="1.6"/></g><g id="a140"><circle class="g" cx="97" cy="307" r="1.6"/></g>
<g id="a141"><circle class="c" cx="157" cy="308" r="3.4"/></g><g id="a142"><circle class="g" cx="115" cy="316" r="2.4"/></g><g id="a143"><circle class="c" cx="173" cy="318" r="2.6"/></g><g id="a144"><circle class="g" cx="195" cy="315" r="2.8"/></g><g id="a145"><circle class="b" cx="83" cy="318" r="1.8"/></g><g id="a146"><circle class="g" cx="133" cy="321" r="1.8"/></g><g id="a147"><circle class="b" cx="100" cy="328" r="2"/></g><g id="a148"><circle class="k" cx="150" cy="326" r="2.6"/></g><g id="a149"><circle class="k" cx="166" cy="335" r="2.6"/></g><g id="a150"><circle class="b" cx="119" cy="337" r="1.6"/></g>
<g id="a151"><circle class="g" cx="137" cy="343" r="1.6"/></g><g id="a152"><circle class="g" cx="155" cy="349" r="1.6"/></g><g id="a153"><circle class="g" cx="179" cy="351" r="1.6"/></g><g id="a154"><circle class="o" cx="188" cy="334" r="1.6"/></g><g id="a155"><circle class="m" cx="206" cy="7" r="2"/></g><g id="a156"><circle class="v" cx="223" cy="11" r="1.8"/></g><g id="a157"><circle class="m" cx="241" cy="15" r="2"/></g><g id="a158"><circle class="g" cx="257" cy="23" r="2.4"/></g><g id="a159"><circle class="g" cx="233" cy="33" r="2.8"/></g><g id="a160"><circle class="g" cx="275" cy="30" r="2"/></g>
<g id="a161"><circle class="v" cx="213" cy="28" r="1.5"/></g><g id="a162"><circle class="g" cx="251" cy="40" r="2"/></g><g id="a163"><circle class="k" cx="293" cy="42" r="2.8"/></g><g id="a164"><circle class="c" cx="204" cy="44" r="1.6"/></g><g id="a165"><circle class="g" cx="222" cy="49" r="1.6"/></g><g id="a166"><circle class="o" cx="270" cy="47" r="2.6"/></g><g id="a167"><circle class="k" cx="240" cy="55" r="1.6"/></g><g id="a168"><circle class="s" cx="259" cy="61" r="3.8"/></g><g id="a169"><circle class="g" cx="286" cy="59" r="2.4"/></g><g id="a170"><circle class="f" cx="308" cy="57" r="1.8"/></g>
<g id="a171"><circle class="g" cx="211" cy="65" r="2.8"/></g><g id="a172"><circle class="h" cx="229" cy="72" r="2.4"/></g><g id="a173"><circle class="c" cx="248" cy="76" r="1.8"/></g><g id="a174"><circle class="k" cx="269" cy="76" r="2.4"/></g><g id="a175"><circle class="g" cx="287" cy="77" r="2.4"/></g><g id="a176"><circle class="s" cx="305" cy="74" r="3"/></g><g id="a177"><circle class="o" cx="323" cy="73" r="1.6"/></g><g id="a178"><circle class="v" cx="216" cy="86" r="4.2"/></g><g id="a179"><circle class="s" cx="236" cy="93" r="3.2"/></g><g id="a180"><circle class="k" cx="255" cy="95" r="1.8"/></g>
<g id="a181"><circle class="g" cx="275" cy="93" r="4.2"/></g><g id="a182"><circle class="g" cx="297" cy="97" r="4.8"/></g><g id="a183"><circle class="f" cx="315" cy="92" r="2.4"/></g><g id="a184"><circle class="g" cx="335" cy="91" r="1.8"/></g><g id="a185"><circle class="v" cx="203" cy="101" r="4"/></g><g id="a186"><circle class="v" cx="221" cy="106" r="3.6"/></g><g id="a187"><circle class="v" cx="245" cy="111" r="5.8"/></g><g id="a188"><circle class="f" cx="268" cy="112" r="4.4"/></g><g id="a189"><circle class="s" cx="286" cy="111" r="3.6"/></g><g id="a190"><circle class="s" cx="306" cy="114" r="7.3"/></g>
<g id="a191"><circle class="o" cx="325" cy="111" r="2.2"/></g><g id="a192"><circle class="g" cx="344" cy="108" r="1.6"/></g><g id="a193"><circle class="g" cx="351" cy="127" r="1.6"/></g><g id="a194"><circle class="v" cx="210" cy="122" r="3.8"/></g><g id="a195"><circle class="v" cx="230" cy="122" r="6.2"/></g><g id="a196"><circle class="g" cx="256" cy="126" r="7"/></g><g id="a197"><circle class="c" cx="273" cy="132" r="1.6"/></g><g id="a198"><circle class="s" cx="291" cy="130" r="6.3"/></g><g id="a199"><circle class="s" cx="313" cy="130" r="3.4"/></g><g id="a200"><circle class="s" cx="331" cy="131" r="4.8"/></g>
<g id="a201"><circle class="v" cx="239" cy="137" r="5.5"/></g><g id="a202"><circle class="m" cx="219" cy="141" r="2.6"/></g><g id="a203"><circle class="v" cx="259" cy="145" r="7.8"/></g><g id="a204"><circle class="g" cx="284" cy="150" r="9.5"/></g><g id="a205"><circle class="s" cx="303" cy="146" r="5.3"/></g><g id="a206"><circle class="f" cx="318" cy="153" r="7.8"/></g><g id="a207"><circle class="g" cx="337" cy="147" r="2.2"/></g><g id="a208"><circle class="s" cx="356" cy="146" r="1.8"/></g><g id="a209"><circle class="f" cx="203" cy="148" r="2"/></g><g id="a210"><circle class="v" cx="234" cy="154" r="4.8"/></g>
<g id="a211"><circle class="k" cx="272" cy="163" r="4.4"/></g><g id="a212"><circle class="g" cx="252" cy="162" r="1.8"/></g><g id="a213"><circle class="g" cx="298" cy="164" r="4.4"/></g><g id="a214"><circle class="g" cx="319" cy="170" r="3.3"/></g><g id="a215"><circle class="s" cx="338" cy="165" r="4.8"/></g><g id="a216"><circle class="f" cx="357" cy="165" r="2.2"/></g><g id="a217"><circle class="v" cx="216" cy="163" r="2.8"/></g><g id="a218"><circle class="s" cx="235" cy="173" r="1.8"/></g><g id="a219"><circle class="k" cx="254" cy="180" r="1.8"/></g><g id="a220"><circle class="s" cx="275" cy="180" r="3.6"/></g>
<g id="a221"><circle class="s" cx="292" cy="181" r="1.8"/></g><g id="a222"><circle class="f" cx="311" cy="184" r="2.4"/></g><g id="a223"><circle class="s" cx="333" cy="185" r="1.8"/></g><g id="a224"><circle class="f" cx="353" cy="183" r="2.4"/></g><g id="a225"><circle class="m" cx="218" cy="183" r="3.8"/></g><g id="a226"><circle class="f" cx="200" cy="182" r="2.4"/></g><g id="a227"><circle class="c" cx="186" cy="199" r="3.4"/></g><g id="a228"><circle class="k" cx="205" cy="201" r="4"/></g><g id="a229"><circle class="h" cx="222" cy="207" r="2.6"/></g><g id="a230"><circle class="v" cx="236" cy="193" r="2.6"/></g>
<g id="a231"><circle class="m" cx="259" cy="198" r="1.6"/></g><g id="a232"><circle class="m" cx="279" cy="197" r="3.4"/></g><g id="a233"><circle class="f" cx="300" cy="200" r="3.4"/></g><g id="a234"><circle class="s" cx="320" cy="202" r="3.4"/></g><g id="a235"><circle class="g" cx="340" cy="204" r="1.6"/></g><g id="a236"><circle class="g" cx="358" cy="201" r="1.6"/></g><g id="a237"><circle class="v" cx="196" cy="217" r="6"/></g><g id="a238"><circle class="v" cx="179" cy="228" r="3.8"/></g><g id="a239"><circle class="c" cx="212" cy="228" r="4.4"/></g><g id="a240"><circle class="b" cx="230" cy="224" r="3.8"/></g>
<g id="a241"><circle class="c" cx="243" cy="211" r="1.6"/></g><g id="a242"><circle class="k" cx="263" cy="216" r="1.6"/></g><g id="a243"><circle class="g" cx="287" cy="215" r="1.6"/></g><g id="a244"><circle class="s" cx="308" cy="218" r="2.4"/></g><g id="a245"><circle class="g" cx="330" cy="221" r="1.6"/></g><g id="a246"><circle class="m" cx="352" cy="221" r="1.6"/></g><g id="a247"><circle class="g" cx="249" cy="231" r="2.2"/></g><g id="a248"><circle class="m" cx="275" cy="230" r="1.6"/></g><g id="a249"><circle class="m" cx="293" cy="235" r="1.6"/></g><g id="a250"><circle class="s" cx="311" cy="238" r="1.6"/></g>
<g id="a251"><circle class="g" cx="328" cy="240" r="2.2"/></g><g id="a252"><circle class="g" cx="346" cy="238" r="2.2"/></g><g id="a253"><circle class="f" cx="196" cy="237" r="2.4"/></g><g id="a254"><circle class="v" cx="231" cy="242" r="1.6"/></g><g id="a255"><circle class="v" cx="247" cy="253" r="2.2"/></g><g id="a256"><circle class="f" cx="264" cy="244" r="1.6"/></g><g id="a257"><circle class="g" cx="215" cy="250" r="1.6"/></g><g id="a258"><circle class="g" cx="281" cy="253" r="1.6"/></g><g id="a259"><circle class="g" cx="299" cy="255" r="3"/></g><g id="a260"><circle class="m" cx="339" cy="256" r="2.4"/></g>
<g id="a261"><circle class="s" cx="317" cy="259" r="1.6"/></g><g id="a262"><circle class="g" cx="264" cy="265" r="3"/></g><g id="a263"><circle class="o" cx="233" cy="265" r="1.6"/></g><g id="a264"><circle class="c" cx="216" cy="270" r="2.2"/></g><g id="a265"><circle class="v" cx="285" cy="272" r="2.4"/></g><g id="a266"><circle class="g" cx="330" cy="273" r="1.6"/></g><g id="a267"><circle class="g" cx="304" cy="275" r="1.6"/></g><g id="a268"><circle class="v" cx="250" cy="276" r="1.6"/></g><g id="a269"><circle class="g" cx="234" cy="286" r="1.6"/></g><g id="a270"><circle class="g" cx="216" cy="290" r="3.6"/></g>
<g id="a271"><circle class="g" cx="269" cy="285" r="2.4"/></g><g id="a272"><circle class="g" cx="290" cy="290" r="2.4"/></g><g id="a273"><circle class="g" cx="318" cy="288" r="2.4"/></g><g id="a274"><circle class="v" cx="252" cy="296" r="1.6"/></g><g id="a275"><circle class="v" cx="306" cy="301" r="1.6"/></g><g id="a276"><circle class="s" cx="275" cy="303" r="1.6"/></g><g id="a277"><circle class="c" cx="234" cy="306" r="1.6"/></g><g id="a278"><circle class="g" cx="214" cy="310" r="2.2"/></g><g id="a279"><circle class="g" cx="259" cy="313" r="1.6"/></g><g id="a280"><circle class="g" cx="291" cy="313" r="1.6"/></g>
<g id="a281"><circle class="g" cx="243" cy="322" r="2.2"/></g><g id="a282"><circle class="s" cx="276" cy="325" r="1.6"/></g><g id="a283"><circle class="g" cx="224" cy="326" r="2.4"/></g><g id="a284"><circle class="f" cx="258" cy="335" r="1.6"/></g><g id="a285"><circle class="g" cx="207" cy="331" r="2.2"/></g><g id="a286"><circle class="g" cx="239" cy="342" r="1.6"/></g><g id="a287"><circle class="g" cx="220" cy="347" r="1.6"/></g>
</g>
<g id="nodesB">
<g id="b1"><circle class="s" cx="573" cy="12" r="1.6"/></g><g id="b2"><circle class="s" cx="557" cy="21" r="1.6"/></g><g id="b3"><circle class="s" cx="538" cy="23" r="1.6"/></g><g id="b4"><circle class="s" cx="583" cy="27" r="2.6"/></g><g id="b5"><circle class="q2" cx="515" cy="37" r="1.6"/></g><g id="b6"><circle class="q8" cx="534" cy="41" r="1.8"/></g><g id="b7"><circle class="q2" cx="554" cy="39" r="2.4"/></g><g id="b8"><circle class="q8" cx="573" cy="41" r="2.4"/></g><g id="b9"><circle class="s" cx="593" cy="44" r="1.6"/></g><g id="b10"><circle class="s" cx="499" cy="52" r="1.6"/></g>
<g id="b11"><circle class="q6" cx="520" cy="55" r="2.6"/></g><g id="b12"><circle class="q6" cx="544" cy="57" r="2.6"/></g><g id="b13"><circle class="s" cx="563" cy="58" r="2.4"/></g><g id="b14"><circle class="q8" cx="582" cy="61" r="4.4"/></g><g id="b15"><circle class="s" cx="486" cy="67" r="1.6"/></g><g id="b16"><circle class="q6" cx="508" cy="70" r="3.2"/></g><g id="b17"><circle class="q6" cx="531" cy="70" r="4.3"/></g><g id="b18"><circle class="q6" cx="551" cy="77" r="6.3"/></g><g id="b19"><circle class="s" cx="473" cy="79" r="1.6"/></g><g id="b20"><circle class="q6" cx="497" cy="84" r="2.8"/></g>
<g id="b21"><circle class="q6" cx="520" cy="86" r="3.6"/></g><g id="b22"><circle class="q6" cx="537" cy="91" r="3.6"/></g><g id="b23"><circle class="q6" cx="556" cy="94" r="6.3"/></g><g id="b24"><circle class="q2" cx="590" cy="84" r="1.8"/></g><g id="b25"><circle class="s" cx="482" cy="97" r="1.6"/></g><g id="b26"><circle class="s" cx="506" cy="100" r="1.6"/></g><g id="b27"><circle class="q8" cx="575" cy="97" r="2.6"/></g><g id="b28"><circle class="v" cx="462" cy="96" r="1.8"/></g><g id="b29"><circle class="q6" cx="527" cy="107" r="2"/></g><g id="b30"><circle class="q7" cx="594" cy="104" r="2"/></g>
<g id="b31"><circle class="v" cx="454" cy="115" r="2.6"/></g><g id="b32"><circle class="v" cx="472" cy="114" r="2.6"/></g><g id="b33"><circle class="v" cx="494" cy="114" r="1.6"/></g><g id="b34"><circle class="q6" cx="546" cy="111" r="3.6"/></g><g id="b35"><circle class="q6" cx="564" cy="115" r="2.4"/></g><g id="b36"><circle class="q6" cx="582" cy="119" r="3.6"/></g><g id="b37"><circle class="v" cx="513" cy="121" r="3.2"/></g><g id="b38"><circle class="s" cx="483" cy="129" r="1.6"/></g><g id="b39"><circle class="v" cx="534" cy="128" r="1.8"/></g><g id="b40"><circle class="v" cx="447" cy="133" r="2.2"/></g>
<g id="b41"><circle class="s" cx="464" cy="137" r="1.6"/></g><g id="b42"><circle class="s" cx="502" cy="135" r="2.8"/></g><g id="b43"><circle class="s" cx="521" cy="141" r="3.2"/></g><g id="b44"><circle class="s" cx="543" cy="147" r="4.2"/></g><g id="b45"><circle class="v" cx="552" cy="133" r="2.8"/></g><g id="b46"><circle class="q7" cx="572" cy="137" r="1.6"/></g><g id="b47"><circle class="q7" cx="592" cy="141" r="4.2"/></g><g id="b48"><circle class="v" cx="446" cy="151" r="1.6"/></g><g id="b49"><circle class="v" cx="473" cy="153" r="2.6"/></g><g id="b50"><circle class="s" cx="491" cy="149" r="2.8"/></g>
<g id="b51"><circle class="q3" cx="510" cy="157" r="2.8"/></g><g id="b52"><circle class="v" cx="528" cy="159" r="4.3"/></g><g id="b53"><circle class="q8" cx="563" cy="153" r="2"/></g><g id="b54"><circle class="h" cx="584" cy="157" r="1.6"/></g><g id="b55"><circle class="s" cx="441" cy="167" r="1.6"/></g><g id="b56"><circle class="v" cx="461" cy="166" r="3.8"/></g><g id="b57"><circle class="v" cx="492" cy="169" r="5.3"/></g><g id="b58"><circle class="s" cx="513" cy="176" r="3.8"/></g><g id="b59"><circle class="v" cx="548" cy="168" r="2.6"/></g><g id="b60"><circle class="q8" cx="570" cy="172" r="1.8"/></g>
<g id="b61"><circle class="v" cx="530" cy="179" r="8.2"/></g><g id="b62"><circle class="q3" cx="556" cy="185" r="6"/></g><g id="b63"><circle class="q3" cx="586" cy="180" r="6.4"/></g><g id="b64"><circle class="v" cx="477" cy="175" r="3.6"/></g><g id="b65"><circle class="s" cx="457" cy="186" r="1.6"/></g><g id="b66"><circle class="q3" cx="498" cy="187" r="3"/></g><g id="b67"><circle class="s" cx="440" cy="188" r="1.6"/></g><g id="b68"><circle class="s" cx="615" cy="8" r="1.6"/></g><g id="b69"><circle class="s" cx="634" cy="10" r="1.6"/></g><g id="b70"><circle class="s" cx="652" cy="14" r="1.6"/></g>
<g id="b71"><circle class="s" cx="669" cy="17" r="1.6"/></g><g id="b72"><circle class="q8" cx="603" cy="27" r="2.4"/></g><g id="b73"><circle class="s" cx="622" cy="27" r="1.6"/></g><g id="b74"><circle class="q8" cx="612" cy="44" r="2.2"/></g><g id="b75"><circle class="q2" cx="641" cy="32" r="1.6"/></g><g id="b76"><circle class="q7" cx="685" cy="26" r="2.4"/></g><g id="b77"><circle class="q7" cx="661" cy="36" r="3.3"/></g><g id="b78"><circle class="q7" cx="704" cy="33" r="2.2"/></g><g id="b79"><circle class="q7" cx="679" cy="43" r="2.2"/></g><g id="b80"><circle class="q7" cx="721" cy="45" r="3.3"/></g>
<g id="b81"><circle class="q7" cx="699" cy="50" r="3.3"/></g><g id="b82"><circle class="q7" cx="650" cy="52" r="1.6"/></g><g id="b83"><circle class="s" cx="632" cy="48" r="1.6"/></g><g id="b84"><circle class="q2" cx="600" cy="63" r="4"/></g><g id="b85"><circle class="q2" cx="620" cy="63" r="2.6"/></g><g id="b86"><circle class="q7" cx="638" cy="68" r="3.3"/></g><g id="b87"><circle class="s" cx="668" cy="59" r="1.6"/></g><g id="b88"><circle class="q7" cx="687" cy="63" r="4"/></g><g id="b89"><circle class="q7" cx="714" cy="62" r="2.4"/></g><g id="b90"><circle class="q1" cx="736" cy="60" r="1.8"/></g>
<g id="b91"><circle class="q2" cx="657" cy="75" r="2.4"/></g><g id="b92"><circle class="q2" cx="608" cy="81" r="5.3"/></g><g id="b93"><circle class="q7" cx="626" cy="84" r="3.3"/></g><g id="b94"><circle class="s" cx="676" cy="79" r="2.4"/></g><g id="b95"><circle class="q7" cx="697" cy="79" r="2.4"/></g><g id="b96"><circle class="q7" cx="716" cy="81" r="2.4"/></g><g id="b97"><circle class="q7" cx="733" cy="77" r="3.3"/></g><g id="b98"><circle class="q1" cx="752" cy="76" r="1.6"/></g><g id="b99"><circle class="q2" cx="644" cy="89" r="4.4"/></g><g id="b100"><circle class="s" cx="611" cy="99" r="2.4"/></g>
<g id="b101"><circle class="q7" cx="664" cy="96" r="3.3"/></g><g id="b102"><circle class="s" cx="684" cy="98" r="1.6"/></g><g id="b103"><circle class="q7" cx="703" cy="97" r="4.4"/></g><g id="b104"><circle class="q1" cx="725" cy="99" r="5"/></g><g id="b105"><circle class="q1" cx="744" cy="95" r="2.4"/></g><g id="b106"><circle class="q1" cx="763" cy="94" r="2"/></g><g id="b107"><circle class="q2" cx="631" cy="104" r="4.2"/></g><g id="b108"><circle class="q2" cx="649" cy="109" r="3.6"/></g><g id="b109"><circle class="q2" cx="673" cy="114" r="6"/></g><g id="b110"><circle class="q1" cx="697" cy="115" r="4.5"/></g>
<g id="b111"><circle class="q7" cx="714" cy="114" r="3.8"/></g><g id="b112"><circle class="q1" cx="735" cy="116" r="7.3"/></g><g id="b113"><circle class="q1" cx="753" cy="113" r="1.6"/></g><g id="b114"><circle class="s" cx="772" cy="112" r="1.6"/></g><g id="b115"><circle class="q7" cx="616" cy="117" r="2.2"/></g><g id="b116"><circle class="q2" cx="638" cy="125" r="4.2"/></g><g id="b117"><circle class="q2" cx="658" cy="125" r="6.4"/></g><g id="b118"><circle class="q1" cx="684" cy="128" r="7.4"/></g><g id="b119"><circle class="q1" cx="719" cy="132" r="6.4"/></g><g id="b120"><circle class="q1" cx="742" cy="134" r="3.2"/></g>
<g id="b121"><circle class="q1" cx="759" cy="134" r="4.4"/></g><g id="b122"><circle class="s" cx="778" cy="129" r="1.6"/></g><g id="b123"><circle class="q2" cx="601" cy="126" r="1.6"/></g><g id="b124"><circle class="q2" cx="624" cy="135" r="3.8"/></g><g id="b125"><circle class="q2" cx="668" cy="139" r="5.5"/></g><g id="b126"><circle class="q2" cx="647" cy="144" r="2.8"/></g><g id="b127"><circle class="s" cx="702" cy="135" r="1.6"/></g><g id="b128"><circle class="q1" cx="731" cy="148" r="5.3"/></g><g id="b129"><circle class="q2" cx="688" cy="148" r="7.8"/></g><g id="b130"><circle class="q1" cx="713" cy="152" r="10"/></g>
<g id="b131"><circle class="q1" cx="746" cy="155" r="7.8"/></g><g id="b132"><circle class="q7" cx="632" cy="151" r="1.6"/></g><g id="b133"><circle class="q2" cx="663" cy="156" r="5"/></g><g id="b134"><circle class="h" cx="610" cy="149" r="1.6"/></g><g id="b135"><circle class="q1" cx="765" cy="151" r="1.8"/></g><g id="b136"><circle class="q1" cx="784" cy="149" r="1.8"/></g><g id="b137"><circle class="s" cx="602" cy="165" r="1.6"/></g><g id="b138"><circle class="q2" cx="622" cy="167" r="1.6"/></g><g id="b139"><circle class="q2" cx="645" cy="166" r="2.6"/></g><g id="b140"><circle class="s" cx="681" cy="164" r="1.6"/></g>
<g id="b141"><circle class="q1" cx="700" cy="165" r="4.4"/></g><g id="b142"><circle class="q1" cx="727" cy="167" r="4.4"/></g><g id="b143"><circle class="q1" cx="748" cy="173" r="2.8"/></g><g id="b144"><circle class="q1" cx="766" cy="168" r="5"/></g><g id="b145"><circle class="q1" cx="786" cy="168" r="1.8"/></g><g id="b146"><circle class="h" cx="609" cy="183" r="2.6"/></g><g id="b147"><circle class="h" cx="629" cy="185" r="2.6"/></g><g id="b148"><circle class="q2" cx="647" cy="187" r="3.3"/></g><g id="b149"><circle class="q7" cx="663" cy="177" r="1.6"/></g><g id="b150"><circle class="s" cx="682" cy="183" r="2.4"/></g>
<g id="b151"><circle class="q1" cx="703" cy="183" r="3.3"/></g><g id="b152"><circle class="q7" cx="720" cy="184" r="1.6"/></g><g id="b153"><circle class="q1" cx="740" cy="188" r="1.8"/></g><g id="b154"><circle class="q1" cx="760" cy="188" r="1.8"/></g><g id="b155"><circle class="q1" cx="782" cy="185" r="2.6"/></g><g id="b160"><circle class="q3" cx="541" cy="194" r="3.4"/></g>
<g id="b161"><circle class="q3" cx="573" cy="195" r="7.4"/></g><g id="b162"><circle class="q3" cx="593" cy="197" r="5.4"/></g><g id="b163"><circle class="q3" cx="559" cy="207" r="7"/></g><g id="b164"><circle class="q3" cx="581" cy="213" r="5"/></g><g id="b165"><circle class="q3" cx="568" cy="225" r="7"/></g><g id="b166"><circle class="q3" cx="587" cy="232" r="5.4"/></g><g id="b167"><circle class="q3" cx="573" cy="245" r="4"/></g><g id="b168"><circle class="q3" cx="554" cy="239" r="2.2"/></g><g id="b169"><circle class="v" cx="517" cy="195" r="2.8"/></g><g id="b170"><circle class="v" cx="531" cy="209" r="1.8"/></g>
<g id="b171"><circle class="q8" cx="547" cy="219" r="1.6"/></g><g id="b172"><circle class="v" cx="474" cy="195" r="5.4"/></g><g id="b173"><circle class="v" cx="463" cy="208" r="4.4"/></g><g id="b174"><circle class="v" cx="488" cy="204" r="3.8"/></g><g id="b175"><circle class="v" cx="506" cy="210" r="3.4"/></g><g id="b176"><circle class="v" cx="480" cy="222" r="5.5"/></g><g id="b177"><circle class="v" cx="497" cy="228" r="5"/></g><g id="b178"><circle class="v" cx="519" cy="222" r="1.8"/></g><g id="b179"><circle class="s" cx="463" cy="229" r="2.4"/></g><g id="b180"><circle class="s" cx="444" cy="206" r="1.6"/></g>
<g id="b181"><circle class="s" cx="446" cy="224" r="1.6"/></g><g id="b182"><circle class="v" cx="534" cy="234" r="1.6"/></g><g id="b183"><circle class="v" cx="454" cy="245" r="3.2"/></g><g id="b184"><circle class="v" cx="474" cy="244" r="3.2"/></g><g id="b185"><circle class="s" cx="493" cy="244" r="1.6"/></g><g id="b186"><circle class="v" cx="513" cy="242" r="1.6"/></g><g id="b187"><circle class="q3" cx="463" cy="263" r="2.4"/></g><g id="b188"><circle class="v" cx="483" cy="263" r="1.6"/></g><g id="b189"><circle class="v" cx="501" cy="261" r="1.6"/></g><g id="b190"><circle class="q3" cx="520" cy="260" r="3.2"/></g>
<g id="b191"><circle class="v" cx="536" cy="252" r="1.6"/></g><g id="b192"><circle class="q3" cx="555" cy="259" r="1.6"/></g><g id="b193"><circle class="s" cx="587" cy="256" r="2.6"/></g><g id="b194"><circle class="v" cx="472" cy="279" r="1.6"/></g><g id="b195"><circle class="v" cx="495" cy="280" r="1.6"/></g><g id="b196"><circle class="s" cx="515" cy="278" r="1.6"/></g><g id="b197"><circle class="s" cx="537" cy="272" r="3.2"/></g><g id="b198"><circle class="h" cx="572" cy="268" r="1.6"/></g><g id="b199"><circle class="h" cx="590" cy="276" r="2.6"/></g><g id="b200"><circle class="q8" cx="553" cy="281" r="1.6"/></g>
<g id="b201"><circle class="q8" cx="569" cy="288" r="2.6"/></g><g id="b202"><circle class="q3" cx="484" cy="294" r="2.2"/></g><g id="b203"><circle class="s" cx="511" cy="296" r="3"/></g><g id="b204"><circle class="q8" cx="532" cy="291" r="1.8"/></g><g id="b205"><circle class="s" cx="548" cy="301" r="3"/></g><g id="b206"><circle class="s" cx="566" cy="305" r="3"/></g><g id="b207"><circle class="q3" cx="588" cy="293" r="1.6"/></g><g id="b208"><circle class="q8" cx="497" cy="308" r="1.6"/></g><g id="b209"><circle class="s" cx="526" cy="309" r="1.6"/></g><g id="b210"><circle class="h" cx="585" cy="311" r="3.8"/></g>
<g id="b211"><circle class="s" cx="543" cy="319" r="2.8"/></g><g id="b212"><circle class="s" cx="511" cy="321" r="1.6"/></g><g id="b213"><circle class="s" cx="561" cy="324" r="1.6"/></g><g id="b214"><circle class="h" cx="578" cy="329" r="2.6"/></g><g id="b215"><circle class="s" cx="529" cy="332" r="1.6"/></g><g id="b216"><circle class="h" cx="594" cy="338" r="2.6"/></g><g id="b217"><circle class="s" cx="547" cy="340" r="1.6"/></g><g id="b218"><circle class="s" cx="565" cy="345" r="1.6"/></g><g id="b219"><circle class="s" cx="583" cy="352" r="1.6"/></g><g id="b220"><circle class="h" cx="614" cy="202" r="3.3"/></g>
<g id="b221"><circle class="h" cx="633" cy="204" r="3.8"/></g><g id="b222"><circle class="q3" cx="601" cy="215" r="1.6"/></g><g id="b223"><circle class="q2" cx="624" cy="220" r="6"/></g><g id="b224"><circle class="q2" cx="607" cy="231" r="3.8"/></g><g id="b225"><circle class="h" cx="639" cy="231" r="3.8"/></g><g id="b226"><circle class="q2" cx="650" cy="210" r="2.6"/></g><g id="b227"><circle class="q2" cx="658" cy="227" r="3.3"/></g><g id="b228"><circle class="q2" cx="664" cy="196" r="1.8"/></g><g id="b229"><circle class="q7" cx="672" cy="214" r="1.6"/></g><g id="b230"><circle class="s" cx="678" cy="234" r="2.2"/></g>
<g id="b231"><circle class="q7" cx="624" cy="240" r="3.3"/></g><g id="b232"><circle class="q2" cx="660" cy="245" r="1.6"/></g><g id="b233"><circle class="q2" cx="675" cy="255" r="1.6"/></g><g id="b234"><circle class="q8" cx="604" cy="250" r="2.4"/></g><g id="b235"><circle class="h" cx="643" cy="253" r="1.6"/></g><g id="b236"><circle class="h" cx="626" cy="260" r="2.4"/></g><g id="b237"><circle class="q7" cx="661" cy="267" r="1.6"/></g><g id="b238"><circle class="h" cx="608" cy="267" r="5.3"/></g><g id="b239"><circle class="h" cx="644" cy="273" r="2.6"/></g><g id="b240"><circle class="h" cx="626" cy="279" r="2.2"/></g>
<g id="b241"><circle class="h" cx="608" cy="287" r="2.6"/></g><g id="b242"><circle class="q8" cx="644" cy="293" r="3.4"/></g><g id="b243"><circle class="q8" cx="662" cy="289" r="1.6"/></g><g id="b244"><circle class="s" cx="627" cy="299" r="2.2"/></g><g id="b245"><circle class="q8" cx="607" cy="304" r="2.4"/></g><g id="b246"><circle class="q8" cx="643" cy="313" r="2"/></g><g id="b247"><circle class="q8" cx="623" cy="318" r="3.3"/></g><g id="b248"><circle class="h" cx="602" cy="321" r="2.6"/></g><g id="b249"><circle class="q8" cx="653" cy="329" r="3.3"/></g><g id="b250"><circle class="q8" cx="635" cy="334" r="2.2"/></g>
<g id="b251"><circle class="s" cx="616" cy="337" r="1.6"/></g><g id="b252"><circle class="q8" cx="607" cy="354" r="1.6"/></g><g id="b253"><circle class="s" cx="627" cy="353" r="1.6"/></g><g id="b254"><circle class="s" cx="648" cy="350" r="1.6"/></g><g id="b255"><circle class="s" cx="667" cy="345" r="1.6"/></g><g id="b256"><circle class="s" cx="663" cy="308" r="1.6"/></g><g id="b257"><circle class="s" cx="672" cy="325" r="2.4"/></g><g id="b258"><circle class="s" cx="686" cy="338" r="1.6"/></g><g id="b259"><circle class="s" cx="678" cy="279" r="1.6"/></g><g id="b260"><circle class="s" cx="681" cy="299" r="1.6"/></g>
<g id="b261"><circle class="s" cx="688" cy="316" r="1.6"/></g><g id="b262"><circle class="s" cx="692" cy="268" r="3.3"/></g><g id="b263"><circle class="s" cx="698" cy="288" r="2.4"/></g><g id="b264"><circle class="s" cx="703" cy="306" r="1.6"/></g><g id="b265"><circle class="s" cx="704" cy="328" r="1.6"/></g><g id="b266"><circle class="s" cx="719" cy="316" r="1.6"/></g><g id="b267"><circle class="s" cx="713" cy="275" r="2.4"/></g><g id="b268"><circle class="s" cx="709" cy="256" r="1.6"/></g><g id="b269"><circle class="s" cx="719" cy="293" r="2.4"/></g><g id="b270"><circle class="s" cx="728" cy="257" r="3"/></g>
<g id="b271"><circle class="s" cx="732" cy="278" r="1.6"/></g><g id="b272"><circle class="s" cx="734" cy="304" r="1.6"/></g><g id="b273"><circle class="s" cx="746" cy="262" r="1.6"/></g><g id="b274"><circle class="s" cx="746" cy="291" r="2.4"/></g><g id="b275"><circle class="s" cx="758" cy="276" r="1.6"/></g><g id="b276"><circle class="s" cx="739" cy="240" r="1.6"/></g><g id="b277"><circle class="s" cx="756" cy="243" r="2.4"/></g><g id="b278"><circle class="s" cx="775" cy="241" r="2.4"/></g><g id="b279"><circle class="s" cx="767" cy="259" r="2.4"/></g><g id="b280"><circle class="s" cx="780" cy="224" r="1.6"/></g>
<g id="b281"><circle class="s" cx="787" cy="204" r="1.6"/></g><g id="b282"><circle class="s" cx="769" cy="207" r="1.6"/></g><g id="b283"><circle class="q1" cx="758" cy="223" r="1.6"/></g><g id="b284"><circle class="q1" cx="749" cy="205" r="2.6"/></g><g id="b285"><circle class="q1" cx="728" cy="203" r="3.3"/></g><g id="b286"><circle class="q1" cx="737" cy="221" r="2.6"/></g><g id="b287"><circle class="q1" cx="716" cy="218" r="1.6"/></g><g id="b288"><circle class="s" cx="707" cy="201" r="3.3"/></g><g id="b289"><circle class="s" cx="687" cy="201" r="1.6"/></g><g id="b290"><circle class="s" cx="692" cy="219" r="1.6"/></g>
<g id="b291"><circle class="s" cx="703" cy="232" r="1.6"/></g><g id="b292"><circle class="s" cx="721" cy="238" r="1.6"/></g><g id="b293"><circle class="s" cx="692" cy="247" r="1.6"/></g>
</g>
<g id="legendA">
<rect class="g" x="3" y="369" width="11" height="11"/><text class="lg" x="16" y="379">Proteobacteria</text>
<rect class="k" x="3" y="389" width="11" height="11"/><text class="lg" x="16" y="399">Actinobacteria</text>
<rect class="f" x="3" y="408.5" width="11" height="11"/><text class="lg" x="16" y="418.5">Firmicutes</text>
<rect class="o" x="110" y="369" width="11" height="11"/><text class="lg" x="125" y="379">Bacteroidetes</text>
<rect class="s" x="110" y="389" width="11" height="11"/><text class="lg" x="125" y="399">Other bacteria</text>
<rect class="b" x="214" y="369" width="11" height="11"/><text class="lg" x="229" y="379">Stramenopiles</text>
<rect class="c" x="214" y="389" width="11" height="11"/><text class="lg" x="229" y="399">Opisthokonta</text>
<rect class="h" x="214" y="408.5" width="11" height="11"/><text class="lg" x="229" y="418.5">Hacrobia</text>
<rect class="v" x="315" y="369" width="11" height="11"/><text class="lg" x="330" y="379">Alveolata</text>
<rect class="m" x="315" y="389" width="11" height="11"/><text class="lg" x="367" y="399" text-anchor="middle">Other microbial</text><text class="lg" x="368" y="418.5" text-anchor="middle">eukaryotes</text>
<line x1="0" y1="429" x2="198" y2="429" stroke="#111" stroke-width="1.2"/>
<line x1="213" y1="429" x2="405" y2="429" stroke="#111" stroke-width="1.2"/>
<text class="hd" x="93" y="444" text-anchor="middle">Bacteria</text>
<text class="hd" x="307" y="444" text-anchor="middle">Microbial eukaryotes</text>
</g>
<g id="legendB">
<rect class="q1" x="478" y="369" width="11" height="11"/><text class="lg" x="492" y="379">Module 1</text>
<rect class="q2" x="553" y="369" width="11" height="11"/><text class="lg" x="567" y="379">Module 2</text>
<rect class="q3" x="628" y="369" width="11" height="11"/><text class="lg" x="643" y="379">Module 3</text>
<rect class="h" x="700" y="369" width="11" height="11"/><text class="lg" x="714" y="379">Module 4</text>
<rect class="v" x="478" y="389" width="11" height="11"/><text class="lg" x="492" y="399">Module 5</text>
<rect class="q6" x="553" y="389" width="11" height="11"/><text class="lg" x="567" y="399">Module 6</text>
<rect class="q7" x="628" y="389" width="11" height="11"/><text class="lg" x="643" y="399">Module 7</text>
<rect class="q8" x="700" y="389" width="11" height="11"/><text class="lg" x="714" y="399">Module 8</text>
</g>
</svg>
